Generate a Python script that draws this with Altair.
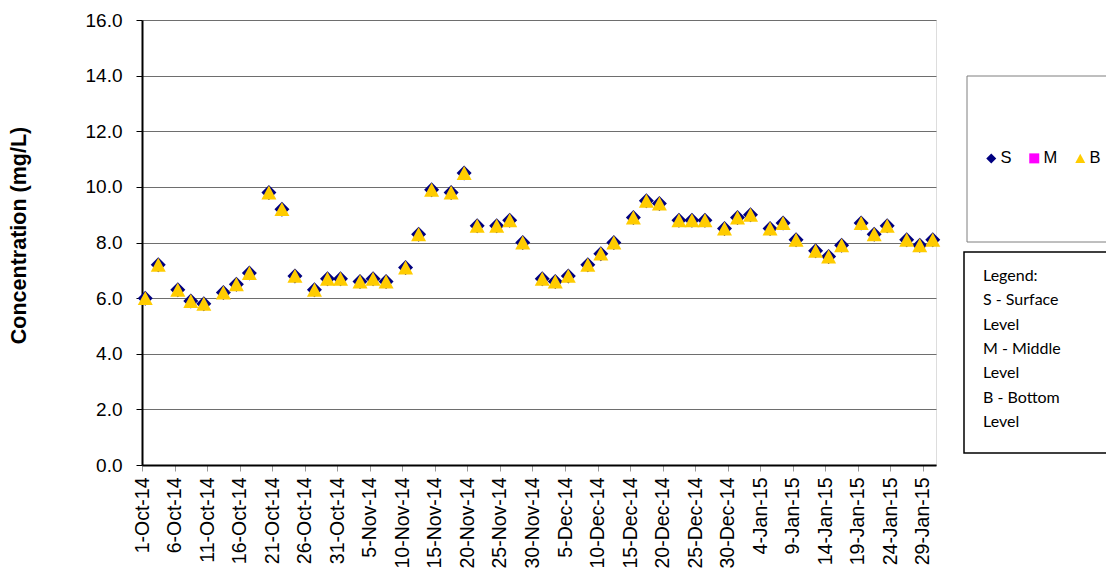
import altair as alt
import pandas as pd

# Sampling dates (Mon / Wed / Fri)
dates = [
    "2014-10-01", "2014-10-03", "2014-10-06", "2014-10-08", "2014-10-10", "2014-10-13", "2014-10-15",
    "2014-10-17", "2014-10-20", "2014-10-22", "2014-10-24", "2014-10-27", "2014-10-29", "2014-10-31",
    "2014-11-03", "2014-11-05", "2014-11-07", "2014-11-10", "2014-11-12", "2014-11-14", "2014-11-17",
    "2014-11-19", "2014-11-21", "2014-11-24", "2014-11-26", "2014-11-28",
    "2014-12-01", "2014-12-03", "2014-12-05", "2014-12-08", "2014-12-10", "2014-12-12", "2014-12-15",
    "2014-12-17", "2014-12-19", "2014-12-22", "2014-12-24", "2014-12-26", "2014-12-29", "2014-12-31",
    "2015-01-02", "2015-01-05", "2015-01-07", "2015-01-09", "2015-01-12", "2015-01-14", "2015-01-16",
    "2015-01-19", "2015-01-21", "2015-01-23", "2015-01-26", "2015-01-28", "2015-01-30",
]

surface = [
    6.0, 7.2, 6.3, 5.9, 5.8, 6.2, 6.5, 6.9, 9.8, 9.2, 6.8, 6.3, 6.7, 6.7,
    6.6, 6.7, 6.6, 7.1, 8.3, 9.9, 9.8, 10.5, 8.6, 8.6, 8.8, 8.0,
    6.7, 6.6, 6.8, 7.2, 7.6, 8.0, 8.9, 9.5, 9.4, 8.8, 8.8, 8.8, 8.5, 8.9,
    9.0, 8.5, 8.7, 8.1, 7.7, 7.5, 7.9, 8.7, 8.3, 8.6, 8.1, 7.9, 8.1,
]
middle = [
    6.0, 7.2, 6.3, 5.9, 5.8, 6.2, 6.5, 6.9, 9.8, 9.2, 6.8, 6.3, 6.7, 6.7,
    6.6, 6.7, 6.6, 7.1, 8.3, 9.9, 9.8, 10.5, 8.6, 8.6, 8.8, 8.0,
    6.7, 6.6, 6.8, 7.2, 7.6, 8.0, 8.9, 9.5, 9.4, 8.8, 8.8, 8.8, 8.5, 8.9,
    9.0, 8.5, 8.7, 8.1, 7.7, 7.5, 7.9, 8.7, 8.3, 8.6, 8.1, 7.9, 8.1,
]
bottom = [
    6.0, 7.2, 6.3, 5.9, 5.8, 6.2, 6.5, 6.9, 9.8, 9.2, 6.8, 6.3, 6.7, 6.7,
    6.6, 6.7, 6.6, 7.1, 8.3, 9.9, 9.8, 10.5, 8.6, 8.6, 8.8, 8.0,
    6.7, 6.6, 6.8, 7.2, 7.6, 8.0, 8.9, 9.5, 9.4, 8.8, 8.8, 8.8, 8.5, 8.9,
    9.0, 8.5, 8.7, 8.1, 7.7, 7.5, 7.9, 8.7, 8.3, 8.6, 8.1, 7.9, 8.1,
]

tick_dates = [
    "2014-10-01", "2014-10-06", "2014-10-11", "2014-10-16", "2014-10-21", "2014-10-26", "2014-10-31",
    "2014-11-05", "2014-11-10", "2014-11-15", "2014-11-20", "2014-11-25", "2014-11-30",
    "2014-12-05", "2014-12-10", "2014-12-15", "2014-12-20", "2014-12-25", "2014-12-30",
    "2015-01-04", "2015-01-09", "2015-01-14", "2015-01-19", "2015-01-24", "2015-01-29",
]
domain_dates = ["2014-10-01", "2015-01-31"]
y_ticks = [0, 2, 4, 6, 8, 10, 12, 14, 16]

series_names = ["S", "M", "B"]
series_colors = ["#000080", "#FF00FF", "#FFCC00"]
series_shapes = ["diamond", "square", "M0,-0.93L1,0.93L-1,0.93Z"]
series_sizes = [225, 40, 225]
draw_order = ["M", "S", "B"]

legend_lines = ["Legend:", "S - Surface", "Level", "M - Middle", "Level", "B - Bottom", "Level"]


def to_dt(s):
    y, m, d = s.split("-")
    return alt.DateTime(year=int(y), month=int(m), date=int(d))


rows = []
for name, vals in zip(series_names, [surface, middle, bottom]):
    for d, v in zip(dates, vals):
        rows.append({"date": d + "T12:00:00", "value": v, "series": name})
df = pd.DataFrame(rows)

x_enc = alt.X(
    "date:T",
    scale=alt.Scale(domain=[to_dt(domain_dates[0]), to_dt(domain_dates[1])]),
    axis=alt.Axis(
        values=[to_dt(t) for t in tick_dates],
        format="%-d-%b-%y",
        labelAngle=270,
        labelFontSize=19.5,
        labelPadding=6,
        tickSize=6,
        tickColor="#999999",
        grid=False,
        title=None,
        domainColor="#000000",
        domainWidth=2,
        labelFlush=False,
        labelOverlap=False,
    ),
)
y_enc = alt.Y(
    "value:Q",
    scale=alt.Scale(domain=[0, 16], nice=False),
    axis=alt.Axis(
        values=y_ticks,
        format=".1f",
        labelFontSize=19,
        labelPadding=14,
        tickSize=6,
        tickColor="#000000",
        gridColor="#6e6e6e",
        gridWidth=1,
        domainColor="#000000",
        domainWidth=2,
        title="Concentration (mg/L)",
        titleFontSize=21.5,
        titleFontWeight="bold",
        titleX=-123,
        titleY=215,
        titleAngle=270,
        titleAlign="center",
        titleBaseline="middle",
    ),
)
color_enc = alt.Color(
    "series:N",
    scale=alt.Scale(domain=series_names, range=series_colors),
    legend=alt.Legend(
        orient="none",
        legendX=841,
        legendY=130,
        direction="horizontal",
        title=None,
        labelFontSize=16.5,
        labelFont="Liberation Sans",
        symbolSize=100,
        labelOffset=1,
        columnPadding=14,
        symbolStrokeWidth=0,
    ),
)
shape_enc = alt.Shape("series:N", scale=alt.Scale(domain=series_names, range=series_shapes))

layers = []

one = pd.DataFrame({"k": [0]})
box1 = alt.Chart(one).mark_rect(fill="white", stroke="#7f7f7f", strokeWidth=1).encode(
    x=alt.value(825), x2=alt.value(1100), y=alt.value(56), y2=alt.value(222)
)
box2 = alt.Chart(one).mark_rect(fill="white", stroke="#000000", strokeWidth=1.5).encode(
    x=alt.value(822), x2=alt.value(1100), y=alt.value(232), y2=alt.value(433)
)
legend_text = alt.Chart(one).mark_text(
    align="left", baseline="middle", font="Lato", fontSize=16, lineHeight=24.3, color="#000000"
).encode(x=alt.value(841), y=alt.value(256), text=alt.value(legend_lines))

layers += [box1, box2, legend_text]

for name in draw_order:
    i = series_names.index(name)
    layers.append(
        alt.Chart(df)
        .transform_filter(alt.datum.series == name)
        .mark_point(filled=True, opacity=1, size=series_sizes[i], strokeWidth=0)
        .encode(x=x_enc, y=y_enc, color=color_enc, shape=shape_enc)
    )

chart = (
    alt.layer(*layers)
    .properties(
        width=794,
        height=445,
        autosize=alt.AutoSizeParams(type="none"),
        padding={"left": 134, "top": 12, "right": 170, "bottom": 106},
    )
    .configure_view(stroke="#000000", strokeWidth=1.5)
    .configure_axis(labelFont="Liberation Sans", titleFont="Liberation Sans", labelColor="#000000", titleColor="#000000")
    .configure(background="white")
)

chart.save("out.html", embed_options={"renderer": "svg", "actions": False})
